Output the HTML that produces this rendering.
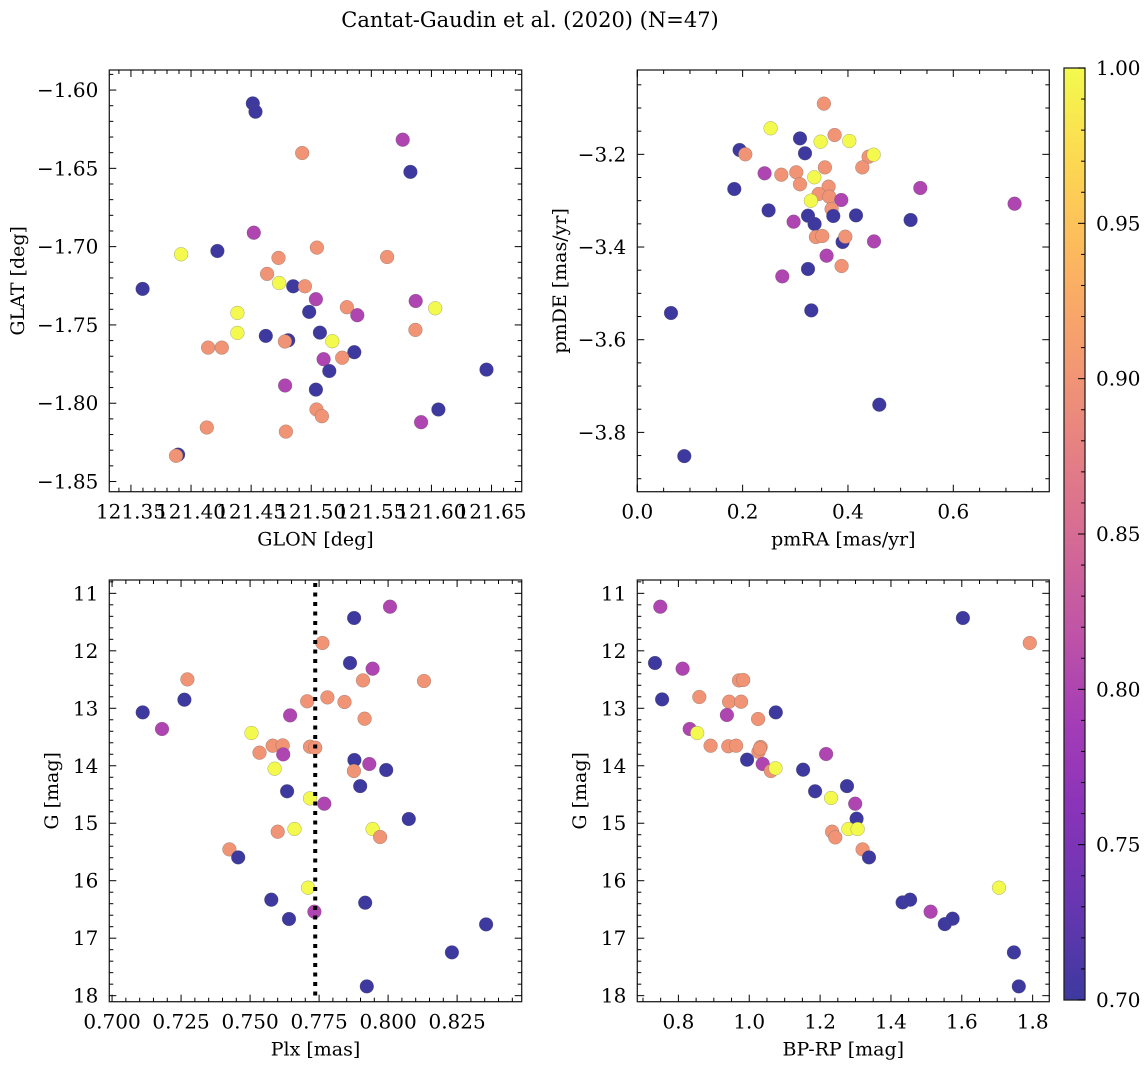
<!DOCTYPE html>
<html><head><meta charset="utf-8">
<style>
html,body{margin:0;padding:0;background:#fff;}
svg{display:block;font-family:"DejaVu Serif","Liberation Serif",serif;}
</style></head>
<body>
<svg id="fig" width="1148" height="1068" viewBox="0 0 1148 1068" xmlns="http://www.w3.org/2000/svg">
<text x="530" y="27" font-size="21" text-anchor="middle">Cantat-Gaudin et al. (2020) (N=47)</text>
</svg>
<script>
// ---- data: panel 1 (GLON vs GLAT)
const glonX=[121.4514,121.4536,121.5761,121.4925,121.5825,121.4522,121.5047,121.4219,121.3917,121.4728,121.5631,121.4633,121.4733,121.4850,121.4947,121.3597,121.5039,121.5869,121.6031,121.5297,121.5383,121.4983,121.4386,121.5867,121.4386,121.5072,121.4622,121.4808,121.4781,121.5175,121.4142,121.4256,121.5358,121.5258,121.5103,121.5150,121.6458,121.4783,121.5039,121.6058,121.5044,121.5089,121.5914,121.4131,121.4789,121.3892,121.3875];
const glatY=[-1.6085,-1.6138,-1.6317,-1.6402,-1.6523,-1.6911,-1.7006,-1.7028,-1.7049,-1.7072,-1.7066,-1.7174,-1.7232,-1.7253,-1.7253,-1.7270,-1.7336,-1.7347,-1.7394,-1.7387,-1.7438,-1.7417,-1.7423,-1.7532,-1.7551,-1.7549,-1.7570,-1.7598,-1.7606,-1.7604,-1.7645,-1.7645,-1.7674,-1.7709,-1.7719,-1.7794,-1.7785,-1.7887,-1.7913,-1.8040,-1.8040,-1.8083,-1.8121,-1.8155,-1.8181,-1.8328,-1.8336];
const glonC=[0.7,0.7,0.8,0.9,0.7,0.8,0.9,0.7,1.0,0.9,0.9,0.9,1.0,0.7,0.9,0.7,0.8,0.8,1.0,0.9,0.8,0.7,1.0,0.9,1.0,0.7,0.7,0.7,0.9,1.0,0.9,0.9,0.7,0.9,0.8,0.7,0.7,0.8,0.7,0.7,0.9,0.9,0.8,0.9,0.9,0.7,0.9];
// ---- panel 2 (pmRA vs pmDE)
const pmraX=[0.3544,0.2532,0.3089,0.3747,0.3481,0.4025,0.1943,0.2051,0.3184,0.4392,0.4487,0.2418,0.2734,0.3019,0.3563,0.4272,0.3361,0.3089,0.3633,0.1842,0.5373,0.3443,0.3646,0.3297,0.3873,0.3690,0.7165,0.2494,0.3241,0.3722,0.4152,0.5190,0.2968,0.3367,0.3392,0.3513,0.3899,0.3949,0.4494,0.3595,0.3880,0.3241,0.2753,0.3304,0.0639,0.4595,0.0892];
const pmdeY=[-3.0906,-3.1439,-3.1655,-3.1583,-3.1727,-3.1712,-3.1906,-3.2000,-3.1978,-3.2050,-3.2007,-3.2410,-3.2439,-3.2388,-3.2281,-3.2281,-3.2496,-3.2647,-3.2698,-3.2748,-3.2727,-3.2856,-3.2914,-3.3000,-3.2986,-3.3180,-3.3065,-3.3209,-3.3324,-3.3331,-3.3317,-3.3417,-3.3453,-3.3504,-3.3784,-3.3763,-3.3892,-3.3777,-3.3878,-3.4187,-3.4410,-3.4475,-3.4633,-3.5367,-3.5424,-3.7403,-3.8511];
const pmC=[0.9,1.0,0.7,0.9,1.0,1.0,0.7,0.9,0.7,0.9,1.0,0.8,0.9,0.9,0.9,0.9,1.0,0.9,0.9,0.7,0.8,0.9,0.9,1.0,0.8,0.9,0.8,0.7,0.7,0.7,0.7,0.7,0.8,0.7,0.9,0.9,0.7,0.9,0.8,0.8,0.9,0.7,0.8,0.7,0.7,0.7,0.7];
// ---- panel 3 (Plx vs G)
const plxX=[0.8007,0.7877,0.7762,0.7862,0.7944,0.7273,0.7909,0.8130,0.7262,0.7707,0.7780,0.7842,0.7111,0.7645,0.7915,0.7181,0.7505,0.7582,0.7618,0.7717,0.7736,0.7534,0.7620,0.7878,0.7932,0.7993,0.7589,0.7876,0.7899,0.7634,0.7717,0.7769,0.8075,0.7661,0.7944,0.7600,0.7971,0.7425,0.7457,0.7710,0.7577,0.7917,0.7733,0.7641,0.8355,0.8231,0.7923];
const plxG=[11.232,11.429,11.864,12.212,12.311,12.497,12.514,12.526,12.850,12.879,12.810,12.891,13.071,13.123,13.181,13.361,13.430,13.651,13.645,13.668,13.686,13.773,13.802,13.900,13.970,14.074,14.051,14.092,14.353,14.445,14.567,14.660,14.927,15.101,15.101,15.147,15.240,15.455,15.594,16.122,16.331,16.383,16.539,16.667,16.760,17.247,17.839];
const plxC=[0.8,0.7,0.9,0.7,0.8,0.9,0.9,0.9,0.7,0.9,0.9,0.9,0.7,0.8,0.9,0.8,1.0,0.9,0.9,0.9,0.9,0.9,0.8,0.7,0.8,0.7,1.0,0.9,0.7,0.7,1.0,0.8,0.7,1.0,1.0,0.9,0.9,0.9,0.7,1.0,0.7,0.7,0.8,0.7,0.7,0.7,0.7];
const plxRef=[0.7736];
// ---- panel 4 (BP-RP vs G)
const bprpX=[0.749,1.603,1.792,0.734,0.812,0.971,0.983,0.754,0.859,0.943,0.977,1.075,0.937,1.025,0.832,0.853,0.891,0.941,0.963,1.032,1.026,1.217,0.994,1.038,1.061,1.074,1.152,1.276,1.186,1.231,1.299,1.303,1.280,1.306,1.234,1.243,1.320,1.338,1.705,1.433,1.454,1.512,1.552,1.574,1.747,1.761,1.030];
const bprpG=[11.232,11.429,11.864,12.212,12.311,12.514,12.508,12.845,12.804,12.885,12.885,13.071,13.117,13.187,13.361,13.430,13.651,13.662,13.651,13.674,13.755,13.796,13.894,13.970,14.092,14.045,14.068,14.353,14.445,14.561,14.660,14.921,15.101,15.101,15.147,15.246,15.455,15.594,16.122,16.377,16.331,16.539,16.754,16.661,17.247,17.839,13.700];
const bprpC=[0.8,0.7,0.9,0.7,0.8,0.9,0.9,0.7,0.9,0.9,0.9,0.7,0.8,0.9,0.8,1.0,0.9,0.9,0.9,0.9,0.9,0.8,0.7,0.8,0.9,1.0,0.7,0.7,0.7,1.0,0.8,0.7,1.0,1.0,0.9,0.9,0.9,0.7,1.0,0.7,0.7,0.8,0.7,0.7,0.7,0.7,0.9];
const cbTicks=[0.70,0.75,0.80,0.85,0.90,0.95,1.00];

const NS='http://www.w3.org/2000/svg';
const svg=document.getElementById('fig');
function el(tag,attrs,parent){const e=document.createElementNS(NS,tag);for(const k in attrs)e.setAttribute(k,attrs[k]);(parent||svg).appendChild(e);return e;}
const stops=[[13,8,135],[65,4,157],[106,0,168],[143,13,164],[177,42,144],[204,71,120],[225,100,98],[242,132,75],[252,166,54],[252,206,37],[240,249,33]];
function plasma(t){t=Math.max(0,Math.min(1,t));const p=t*10,i=Math.min(9,Math.floor(p)),f=p-i;const a=stops[i],b=stops[i+1];
 const c=a.map((v,k)=>v+(b[k]-v)*f).map(v=>Math.round(v*0.8+255*0.2));return `rgb(${c[0]},${c[1]},${c[2]})`;}
function cmap(v){return plasma((v-0.7)/0.3);}
const FS=20;

function panel(o){
 const g=el('g',{});
 
 
 const sx=v=>o.L+(v-o.x0)/(o.x1-o.x0)*(o.R-o.L);
 const sy=v=>o.T+(v-o.y0)/(o.y1-o.y0)*(o.B-o.T);
 const pg=el('g',{},g);
 
 
 for(let i=0;i<o.xs.length;i++){
  const c=el('circle',{cx:sx(o.xs[i]).toFixed(1),cy:sy(o.ys[i]).toFixed(1),r:6.9,fill:cmap(o.cs[i]),stroke:'rgba(90,90,90,0.5)','stroke-width':0.5},pg);
  
  
 }
 if(o.vline){for(const v of o.vline){const l=el('line',{x1:sx(v),x2:sx(v),y1:o.T+3,y2:o.B,stroke:'#000','stroke-width':4,'stroke-dasharray':'4 5.5'},g);
  
  }}
 const fr=el('rect',{x:o.L,y:o.T,width:o.R-o.L,height:o.B-o.T,fill:'none',stroke:'#222','stroke-width':1.3},g);
 
 
 const tk=el('g',{stroke:'#000','stroke-width':1},g);
 const eps=1e-9;
 for(let v=Math.ceil((Math.min(o.x0,o.x1))/o.xmin-eps)*o.xmin;v<=Math.max(o.x0,o.x1)+eps;v+=o.xmin){
  const isMaj=Math.abs(v/o.xmaj-Math.round(v/o.xmaj))<1e-4;const len=isMaj?7:4;const x=sx(v);
  el('line',{x1:x,x2:x,y1:o.B,y2:o.B-len},tk);el('line',{x1:x,x2:x,y1:o.T,y2:o.T+len},tk);}
 for(let v=Math.ceil((Math.min(o.y0,o.y1))/o.ymin-eps)*o.ymin;v<=Math.max(o.y0,o.y1)+eps;v+=o.ymin){
  const isMaj=Math.abs(v/o.ymaj-Math.round(v/o.ymaj))<1e-4;const len=isMaj?7:4;const y=sy(v);
  el('line',{y1:y,y2:y,x1:o.L,x2:o.L+len},tk);el('line',{y1:y,y2:y,x1:o.R,x2:o.R-len},tk);}
 for(const v of o.xlab){const t=el('text',{x:sx(v),y:o.B+27,'font-size':FS,'text-anchor':'middle'},g);t.textContent=v.toFixed(o.xd);
  
  }
 for(const v of o.ylab){const t=el('text',{x:o.L-11,y:sy(v)+7,'font-size':FS,'text-anchor':'end'},g);t.textContent=(v<0?'\u2212':'')+Math.abs(v).toFixed(o.yd);
  
  }
 const xt=el('text',{x:(o.L+o.R)/2,y:o.B+54,'font-size':19,'text-anchor':'middle'},g);xt.textContent=o.xt;
 
 
 const yt=el('text',{x:0,y:0,'font-size':19,'text-anchor':'middle',transform:`translate(${o.ytx},${(o.T+o.B)/2}) rotate(-90)`},g);yt.textContent=o.yt;
 
 
}
panel({name:'glon-glat-panel',L:109.3,R:521.7,T:70,B:491.7,x0:121.3320,x1:121.6751,y0:-1.5872,y1:-1.8565,xmaj:0.05,xmin:0.01,ymaj:0.05,ymin:0.01,
 xlab:[121.35,121.40,121.45,121.50,121.55,121.60,121.65],xd:2,ylab:[-1.60,-1.65,-1.70,-1.75,-1.80,-1.85],yd:2,xs:glonX,ys:glatY,cs:glonC,xt:'GLON [deg]',yt:'GLAT [deg]',ytx:24});
panel({name:'proper-motion-panel',L:637.3,R:1049.3,T:70,B:491.7,x0:0,x1:0.7823,y0:-3.018,y1:-3.928,xmaj:0.2,xmin:0.05,ymaj:0.2,ymin:0.05,
 xlab:[0,0.2,0.4,0.6],xd:1,ylab:[-3.2,-3.4,-3.6,-3.8],yd:1,xs:pmraX,ys:pmdeY,cs:pmC,xt:'pmRA [mas/yr]',yt:'pmDE [mas/yr]',ytx:566});
panel({name:'parallax-mag-panel',L:109.3,R:521.7,T:580,B:1001.7,x0:0.6990,x1:0.8484,y0:10.768,y1:18.105,xmaj:0.025,xmin:0.005,ymaj:1,ymin:0.2,
 xlab:[0.700,0.725,0.750,0.775,0.800,0.825],xd:3,ylab:[11,12,13,14,15,16,17,18],yd:0,xs:plxX,ys:plxG,cs:plxC,vline:plxRef,xt:'Plx [mas]',yt:'G [mag]',ytx:58});
panel({name:'color-mag-panel',L:637.3,R:1049.3,T:580,B:1001.7,x0:0.684,x1:1.847,y0:10.768,y1:18.105,xmaj:0.2,xmin:0.05,ymaj:1,ymin:0.2,
 xlab:[0.8,1.0,1.2,1.4,1.6,1.8],xd:1,ylab:[11,12,13,14,15,16,17,18],yd:0,xs:bprpX,ys:bprpG,cs:bprpC,xt:'BP-RP [mag]',yt:'G [mag]',ytx:586});
(function(){
 const L=1064,R=1085,T=68,B=1000;
 const defs=el('defs',{});const lg=el('linearGradient',{id:'cbg',x1:0,y1:1,x2:0,y2:0},defs);
 for(let i=0;i<=20;i++){el('stop',{offset:i/20,'stop-color':plasma(i/20)},lg);}
 const g=el('g',{});
 
 
 el('rect',{x:L,y:T,width:R-L,height:B-T,fill:'url(#cbg)',stroke:'#222','stroke-width':1.3},g);
 const sy=v=>B-(v-0.7)/0.3*(B-T);
 for(let k=70;k<=100;k++){const v=k/100;const y=sy(v);const maj=k%5===0;el('line',{x1:R,x2:R-(maj?7:4),y1:y,y2:y,stroke:'#000','stroke-width':1},g);}
 for(const v of cbTicks){const t=el('text',{x:R+11,y:sy(v)+7,'font-size':FS},g);t.textContent=v.toFixed(2);
  
  }
})();
</script>
</body></html>
